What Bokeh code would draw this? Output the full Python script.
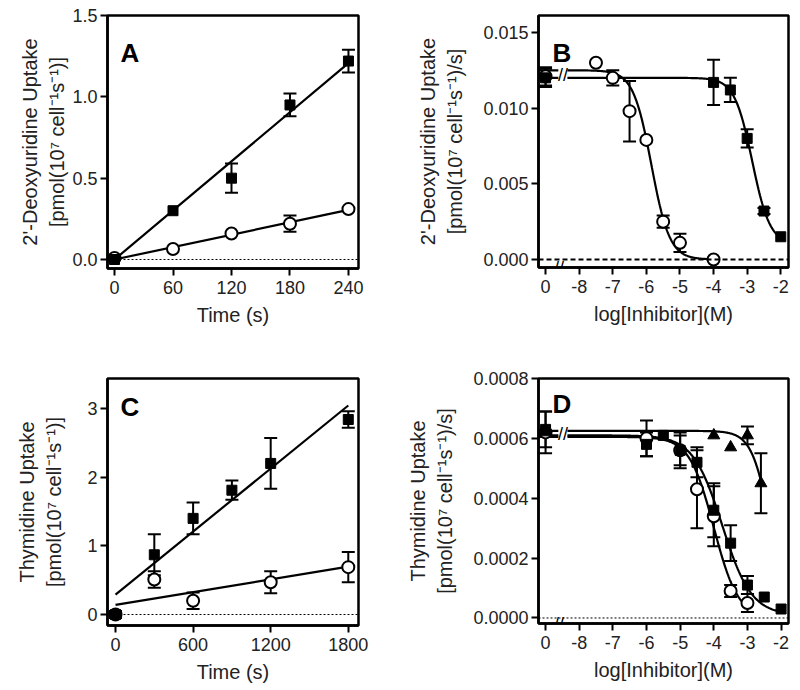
import numpy as np
from bokeh.plotting import figure
from bokeh.models import (Range1d, FixedTicker, Label, Whisker, TeeHead, LinearAxis,
                          ColumnDataSource, NumeralTickFormatter, Span)
from bokeh.layouts import column, row
from bokeh.embed import file_html
from bokeh.resources import INLINE

FONT = "Liberation Sans"
TXT = "#222222"

# ---------------- Panel A : 2'-deoxyuridine uptake vs time ----------------
a_time = [0, 60, 120, 180, 240]
a_sq = [0.0, 0.30, 0.50, 0.95, 1.22]
a_sq_err = [0.0, 0.0, 0.09, 0.07, 0.07]
a_ci = [0.01, 0.065, 0.16, 0.22, 0.31]
a_ci_err = [0.0, 0.0, 0.0, 0.05, 0.0]
a_fit_sq = (0.00503, 0.0)      # slope, intercept
a_fit_ci = (0.00127, 0.0)
a_xticks = [0, 60, 120, 180, 240]
a_yticks = [0.0, 0.5, 1.0, 1.5]

# ---------------- Panel B : 2'-deoxyuridine uptake vs inhibitor ----------------
# position -9 on the axis stands for the control ("0")
b_x_ci = [-9, -7.5, -7, -6.5, -6, -5.5, -5, -4]
b_ci = [0.0121, 0.0130, 0.0120, 0.0098, 0.0079, 0.0025, 0.0011, 0.0]
b_ci_err = [0.0006, 0.0, 0.0005, 0.0020, 0.0, 0.0004, 0.0006, 0.0]
b_x_sq = [-9, -4, -3.5, -3, -2.5, -2]
b_sq = [0.0120, 0.0117, 0.0112, 0.0080, 0.0032, 0.0015]
b_sq_err = [0.0006, 0.0015, 0.0008, 0.0006, 0.0002, 0.0]
b_fit_ci = dict(top=0.0125, bottom=0.0, x50=-5.85, h=1.6, end=-4.0)
b_fit_sq = dict(top=0.0120, bottom=0.0010, x50=-2.85, h=1.64, end=-2.0)
b_yticks = [0.0, 0.005, 0.010, 0.015]

# ---------------- Panel C : thymidine uptake vs time ----------------
c_t_sq = [0, 300, 600, 900, 1200, 1800]
c_sq = [0.0, 0.87, 1.40, 1.81, 2.20, 2.84]
c_sq_err = [0.05, 0.30, 0.23, 0.14, 0.37, 0.12]
c_t_ci = [0, 300, 600, 1200, 1800]
c_ci = [0.0, 0.51, 0.20, 0.47, 0.69]
c_ci_err = [0.0, 0.12, 0.12, 0.16, 0.22]
c_fit_sq = (0.00153, 0.29)
c_fit_ci = (0.00031, 0.14)
c_xticks = [0, 600, 1200, 1800]
c_yticks = [0, 1, 2, 3]

# ---------------- Panel D : thymidine uptake vs inhibitor ----------------
d_x_sq = [-9, -6, -5.5, -5, -4.5, -4, -3.5, -3, -2.5, -2]
d_sq = [0.00063, 0.00058, 0.00061, 0.00056, 0.00052, 0.00036, 0.00025, 0.00011, 0.00007, 0.00003]
d_sq_err = [0.00006, 0.00004, 0.0, 0.00005, 0.00005, 0.00009, 0.00006, 0.00003, 0.0, 0.0]
d_x_ci = [-9, -6, -5, -4.5, -4, -3.5, -3]
d_ci = [0.00062, 0.00060, 0.00056, 0.00043, 0.00034, 0.00009, 0.00005]
d_ci_err = [0.00007, 0.00006, 0.00006, 0.00013, 0.00010, 0.00002, 0.00003]
d_x_tr = [-9, -4, -3.5, -3, -2.6]
d_tr = [0.00062, 0.00061, 0.00057, 0.00061, 0.00045]
d_tr_err = [0.0, 0.0, 0.0, 0.00003, 0.00010]
d_fit_sq = dict(top=0.00061, bottom=0.00001, x50=-3.75, h=1.0, end=-2.0)
d_fit_ci = dict(top=0.000605, bottom=0.0, x50=-4.0, h=1.2, end=-3.0)
d_fit_tr = dict(top=0.000625, bottom=0.0, x50=-2.32, h=1.57, end=-2.6)
d_yticks = [0.0, 0.0002, 0.0004, 0.0006, 0.0008]

log_ticks = [-9, -8, -7, -6, -5, -4, -3, -2]
log_labels = ["0", "-8", "-7", "-6", "-5", "-4", "-3", "-2"]
BREAK_LEFT_END = -8.62
BREAK_RIGHT_START = -8.35
BREAK_MARK_X = -8.48
AXIS_BREAK_X = -8.6

UNIT = "[pmol(10\u2077 cell\u207b\u00b9s\u207b\u00b9)]"
UNIT_S = "[pmol(10\u2077 cell\u207b\u00b9s\u207b\u00b9)/s]"


def make_fig(xr, yr, fw, fh, bl, bt, br, bb, xlabel, ylab1, ylab2, stand2, stand1):
    p = figure(x_range=Range1d(*xr), y_range=Range1d(*yr),
               frame_width=fw, frame_height=fh,
               min_border_left=bl, min_border_top=bt,
               min_border_right=br, min_border_bottom=bb,
               output_backend="svg", toolbar_location=None,
               background_fill_color="white", border_fill_color="white")
    p.grid.visible = False
    p.outline_line_color = "black"
    p.outline_line_width = 2.5
    for ax in (p.xaxis[0], p.yaxis[0]):
        ax.axis_line_width = 2.5
        ax.axis_line_color = "black"
        ax.major_tick_line_width = 2
        ax.major_tick_out = 7
        ax.major_tick_in = 0
        ax.minor_tick_line_color = None
        ax.major_label_text_font = FONT
        ax.major_label_text_font_size = "18px"
        ax.major_label_text_color = TXT
        ax.axis_label_text_font = FONT
        ax.axis_label_text_font_size = "20px"
        ax.axis_label_text_font_style = "normal"
        ax.axis_label_text_color = TXT
    p.xaxis[0].axis_label = xlabel
    p.yaxis[0].axis_label = ylab2
    p.xaxis[0].major_label_standoff = 5
    p.yaxis[0].major_label_standoff = 3
    p.xaxis[0].axis_label_standoff = 7
    p.yaxis[0].axis_label_standoff = stand2
    # first line of the two-line y title: a bare axis outside the real one
    outer = LinearAxis(axis_label=ylab1, ticker=FixedTicker(ticks=[]),
                       axis_line_color=None, major_tick_line_color=None,
                       minor_tick_line_color=None, major_tick_out=0, major_tick_in=0,
                       major_label_standoff=0, major_label_text_font_size="0px",
                       axis_label_standoff=stand1, axis_label_text_font=FONT,
                       axis_label_text_font_size="20px", axis_label_text_font_style="normal",
                       axis_label_text_color=TXT)
    p.add_layout(outer, "left")
    return p


def letter(p, txt, sx, sy):
    p.add_layout(Label(x=sx, y=sy, x_units="screen", y_units="screen", text=txt,
                       text_font=FONT, text_font_size="26px", text_font_style="bold",
                       text_color="black", text_baseline="alphabetic"))


def errbars(p, xs, ys, es):
    xb = [x for x, e in zip(xs, es) if e > 0]
    up = [y + e for y, e in zip(ys, es) if e > 0]
    lo = [y - e for y, e in zip(ys, es) if e > 0]
    src = ColumnDataSource(dict(x=xb, upper=up, lower=lo))
    w = Whisker(base="x", upper="upper", lower="lower", source=src,
                line_width=2, line_color="black", level="underlay",
                upper_head=TeeHead(size=13, line_width=2, line_color="black"),
                lower_head=TeeHead(size=13, line_width=2, line_color="black"))
    p.add_layout(w)


def squares(p, xs, ys):
    p.scatter(xs, ys, marker="square", size=10, fill_color="black", line_color="black")


def circles(p, xs, ys):
    p.scatter(xs, ys, marker="circle", size=12, fill_color="white", line_color="black", line_width=2)


def triangles(p, xs, ys):
    p.scatter(xs, ys, marker="triangle", size=12, fill_color="black", line_color="black")


def linfit(p, fit, x0, x1):
    xs = np.array([x0, x1], dtype=float)
    p.line(xs, fit[0] * xs + fit[1], line_color="black", line_width=2.2)


def sig(x, f):
    return f["bottom"] + (f["top"] - f["bottom"]) / (1 + 10 ** ((x - f["x50"]) * f["h"]))


def sigfit(p, f, xleft):
    xa = np.linspace(xleft, BREAK_LEFT_END, 5)
    p.line(xa, sig(xa, f), line_color="black", line_width=2.2)
    xb = np.linspace(BREAK_RIGHT_START, f["end"], 300)
    p.line(xb, sig(xb, f), line_color="black", line_width=2.2)


def breaks(p, yline, ybottom):
    p.add_layout(Label(x=BREAK_MARK_X, y=yline, text="//", text_font=FONT,
                       text_font_size="18px", text_align="center", text_baseline="middle",
                       text_color="black"))
    p.add_layout(Label(x=AXIS_BREAK_X, y=ybottom, text="//", text_font=FONT,
                       text_font_size="18px", text_align="center", text_baseline="middle",
                       text_color="black"))


def log_axis(p):
    p.xaxis[0].ticker = FixedTicker(ticks=log_ticks)
    p.xaxis[0].major_label_overrides = {t: l for t, l in zip(log_ticks, log_labels)}


# ---------- A ----------
pA = make_fig((-7.2, 250.3), (-0.0553, 1.5), 251, 253, 107, 15, 42, 77,
              "Time (s)", "2'-Deoxyuridine Uptake", UNIT, 1, 3)
pA.xaxis[0].ticker = FixedTicker(ticks=a_xticks)
pA.yaxis[0].ticker = FixedTicker(ticks=a_yticks)
pA.yaxis[0].formatter = NumeralTickFormatter(format="0.0")
pA.add_layout(Span(location=0, dimension="width", line_color="black", line_width=1, line_dash="2 2"))
linfit(pA, a_fit_sq, a_time[0], a_time[-1])
linfit(pA, a_fit_ci, a_time[0], a_time[-1])
errbars(pA, a_time, a_sq, a_sq_err)
errbars(pA, a_time, a_ci, a_ci_err)
circles(pA, a_time, a_ci)
squares(pA, a_time, a_sq)
letter(pA, "A", 13, 216)

# ---------- B ----------
pB = make_fig((-9.21, -1.77), (-0.00053, 0.01612), 250, 252, 138, 15, 10, 78,
              "log[Inhibitor](M)", "2'-Deoxyuridine Uptake", UNIT_S, 14, 3)
log_axis(pB)
pB.yaxis[0].ticker = FixedTicker(ticks=b_yticks)
pB.yaxis[0].formatter = NumeralTickFormatter(format="0.000")
pB.add_layout(Span(location=0, dimension="width", line_color="black", line_width=2, line_dash="5 3"))
sigfit(pB, b_fit_ci, -9.3)
sigfit(pB, b_fit_sq, -9.3)
errbars(pB, b_x_ci, b_ci, b_ci_err)
errbars(pB, b_x_sq, b_sq, b_sq_err)
circles(pB, b_x_ci, b_ci)
squares(pB, b_x_sq, b_sq)
breaks(pB, 0.01222, -0.00053)
letter(pB, "B", 14, 215)

# ---------- C ----------
# frames of a row share their top edge, so panel C starts where D starts
pC = make_fig((-62, 1879), (-0.16, 3.437), 251, 247, 107, 33, 42, 60,
              "Time (s)", "Thymidine Uptake", UNIT, 19, 3)
pC.xaxis[0].ticker = FixedTicker(ticks=c_xticks)
pC.yaxis[0].ticker = FixedTicker(ticks=c_yticks)
pC.add_layout(Span(location=0, dimension="width", line_color="black", line_width=1, line_dash="2 2"))
linfit(pC, c_fit_sq, c_t_sq[0], c_t_sq[-1])
linfit(pC, c_fit_ci, c_t_ci[0], c_t_ci[-1])
errbars(pC, c_t_sq, c_sq, c_sq_err)
errbars(pC, c_t_ci, c_ci, c_ci_err)
circles(pC, c_t_ci, c_ci)
squares(pC, c_t_sq, c_sq)
letter(pC, "C", 13, 219)

# ---------- D ----------
pD = make_fig((-9.21, -1.78), (-0.0000184, 0.0008), 250, 245, 138, 33, 10, 62,
              "log[Inhibitor](M)", "Thymidine Uptake", UNIT_S, 14, 3)
log_axis(pD)
pD.yaxis[0].ticker = FixedTicker(ticks=d_yticks)
pD.yaxis[0].formatter = NumeralTickFormatter(format="0.0000")
pD.add_layout(Span(location=0, dimension="width", line_color="black", line_width=1, line_dash="2 2"))
sigfit(pD, d_fit_tr, -9.3)
sigfit(pD, d_fit_sq, -9.3)
sigfit(pD, d_fit_ci, -9.3)
errbars(pD, d_x_tr, d_tr, d_tr_err)
errbars(pD, d_x_ci, d_ci, d_ci_err)
errbars(pD, d_x_sq, d_sq, d_sq_err)
circles(pD, d_x_ci, d_ci)
squares(pD, d_x_sq, d_sq)
triangles(pD, d_x_tr, d_tr)
breaks(pD, 0.000615, -0.0000184)
letter(pD, "D", 14, 220)

layout = column(row(pA, pB), row(pC, pD))
open("out.html", "w").write(file_html(layout, INLINE))
